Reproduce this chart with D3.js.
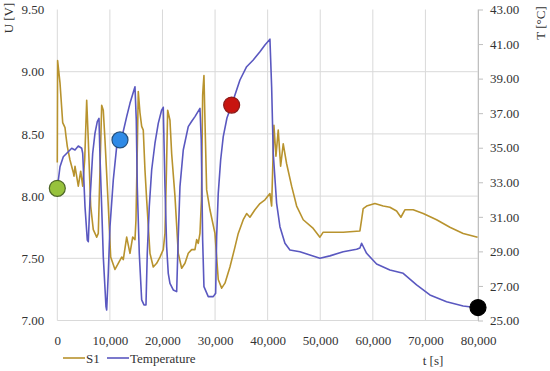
<!DOCTYPE html>
<html>
<head>
<meta charset="utf-8">
<script src="https://cdn.jsdelivr.net/npm/d3@7"></script>
<style>
  body { margin: 0; background: #fff; }
  svg text { font-family: "Liberation Serif", "Times New Roman", serif; fill: #333; }
</style>
</head>
<body>
<div id="chart"></div>
<script>
var svgWidth = 550;
var svgHeight = 371;

// S1 voltage [V] against time [s]
var s1Time = [0, 60, 513, 1027, 1464, 1654, 1901, 2414, 3042, 3175, 3365, 3992, 4448, 4829, 5209, 5589,
  5893, 6349, 6844, 7490, 7794, 8117, 8440, 8745, 9068, 9695, 10151, 10969, 11596, 12243, 12547,
  13193, 13820, 14333, 14771, 14961, 15208, 15398, 15721, 16045, 16349, 16672, 16995, 17622, 18250,
  18896, 19523, 20151, 20474, 20759, 20987, 21424, 21748, 22375, 23002, 23649, 24276, 24903, 25549,
  26177, 26500, 26804, 27127, 27412, 27640, 27754, 27887, 28078, 28401, 29028, 29979, 30606, 31253,
  31880, 32831, 33781, 34409, 35359, 36005, 36633, 37583, 38534, 39484, 40435, 40758, 41195, 41575,
  42013, 42469, 42963, 43610, 44560, 45511, 46766, 48666, 49940, 50567, 51841, 54369, 57544, 57867,
  58169, 58817, 60395, 61973, 63246, 64520, 65337, 66098, 67676, 69577, 72124, 74653, 77181, 79918];
var s1Volt = [8.27, 9.09, 8.91, 8.59, 8.55, 8.48, 8.40, 8.29, 8.19, 8.16, 8.24, 8.08, 8.20, 8.08, 8.29, 8.77,
  8.45, 7.92, 7.73, 7.67, 7.70, 8.21, 8.73, 8.69, 8.45, 7.92, 7.51, 7.41, 7.46, 7.51, 7.49,
  7.67, 7.54, 7.67, 7.65, 7.81, 8.37, 8.84, 8.67, 8.56, 8.53, 8.21, 7.97, 7.54, 7.43,
  7.46, 7.51, 7.57, 7.70, 8.21, 8.69, 8.61, 8.34, 8.00, 7.54, 7.42, 7.46, 7.54, 7.57,
  7.57, 7.65, 7.62, 7.70, 7.97, 8.81, 8.89, 8.97, 8.61, 8.05, 7.89, 7.70, 7.33, 7.26,
  7.30, 7.43, 7.59, 7.70, 7.81, 7.86, 7.83, 7.89, 7.94, 7.97, 8.02, 7.92, 8.57, 8.32,
  8.53, 8.24, 8.42, 8.26, 8.08, 7.92, 7.81, 7.74, 7.67, 7.71, 7.71, 7.71, 7.72, 7.81,
  7.90, 7.92, 7.94, 7.92, 7.91, 7.88, 7.83, 7.89, 7.89, 7.86, 7.81, 7.75, 7.70, 7.67];

// Temperature [°C] against time [s]
var tempTime = [0, 513, 1141, 2091, 2737, 3365, 3992, 4638, 4829, 5266, 5703, 5893, 6216, 6730, 7167,
  7604, 7927, 8117, 8440, 8745, 9258, 9391, 9695, 10018, 10646, 11292, 11919, 12243, 13193, 13820,
  14771, 15018, 15208, 15588, 16045, 16482, 16862, 17109, 17489, 17945, 18573, 19200, 19846, 20151,
  20474, 20797, 21101, 21424, 22052, 22698, 23002, 23325, 23953, 24903, 25500, 26177, 27127, 27374,
  27640, 27887, 28706, 29656, 30112, 30302, 30606, 31063, 31557, 32261, 33153, 33781, 34732, 36005,
  37260, 38534, 39484, 40435, 40758, 41062, 41708, 42336, 43287, 44237, 46138, 48039, 49940, 51841,
  54369, 56917, 57544, 57867, 58817, 60718, 63246, 65775, 68322, 70851, 74025, 77181, 79082, 80000];
var tempVal = [32.65, 33.90, 34.48, 34.77, 34.97, 34.87, 35.10, 34.97, 34.68, 31.59, 29.66, 29.56, 31.98, 34.68, 35.84,
  36.51, 36.70, 34.48, 31.59, 28.69, 25.80, 25.61, 27.73, 30.43, 33.13, 35.06, 35.45, 35.55, 36.80, 37.57,
  38.53, 36.61, 32.75, 28.89, 26.19, 25.90, 25.90, 28.89, 31.59, 33.71, 35.26, 36.41, 37.18, 37.34,
  32.75, 29.27, 27.73, 27.15, 26.77, 26.67, 29.85, 32.75, 34.87, 36.22, 36.50, 36.80, 37.28, 35.45,
  29.66, 26.96, 26.38, 26.38, 26.58, 29.85, 32.36, 34.29, 35.64, 36.72, 37.47, 38.05, 38.92, 39.69,
  40.08, 40.56, 40.95, 41.28, 38.53, 34.68, 31.78, 30.43, 29.47, 29.08, 28.98, 28.79, 28.60, 28.74,
  28.98, 29.12, 29.20, 29.47, 28.89, 28.27, 27.92, 27.73, 27.06, 26.48, 26.09, 25.84, 25.77, 25.75];

// highlighted points on the temperature curve
var markerTime = [0, 11919, 33153, 80000];
var markerTemp = [32.65, 35.45, 37.47, 25.75];
var markerFill = ["#97c23c", "#2f8ae6", "#c8140f", "#000000"];
var markerStroke = ["#4d6626", "#24507e", "#8a1a1a", "#000000"];

var xTicks = [0, 10000, 20000, 30000, 40000, 50000, 60000, 70000, 80000];
var uTicks = [7.0, 7.5, 8.0, 8.5, 9.0, 9.5];
var tTicks = [25, 27, 29, 31, 33, 35, 37, 39, 41, 43];

var s1Color = "#b8932e";
var tempColor = "#5a58c0";
var gridColor = "#d9d9d9";

var plot = { left: 57.3, right: 478, top: 9.5, bottom: 320.5 };

var svg = d3.select("#chart")
  .append("svg")
  .attr("width", svgWidth)
  .attr("height", svgHeight);

var xScale = d3.scaleLinear().domain([0, 80000]).range([plot.left, plot.right]);
var uScale = d3.scaleLinear().domain([7, 9.5]).range([plot.bottom, plot.top]);
var tScale = d3.scaleLinear().domain([25, 43]).range([plot.bottom, plot.top]);

// gridlines
svg.append("g")
  .selectAll("line")
  .data(xTicks)
  .enter()
  .append("line")
  .attr("x1", d => xScale(d))
  .attr("x2", d => xScale(d))
  .attr("y1", plot.top)
  .attr("y2", plot.bottom)
  .attr("stroke", gridColor)
  .attr("stroke-width", 1);

svg.append("g")
  .selectAll("line")
  .data(uTicks.filter(d => d < 9.5))
  .enter()
  .append("line")
  .attr("x1", plot.left)
  .attr("x2", plot.right)
  .attr("y1", d => uScale(d))
  .attr("y2", d => uScale(d))
  .attr("stroke", gridColor)
  .attr("stroke-width", 1);

// axes
var bottomAxis = svg.append("g")
  .attr("transform", `translate(0, ${plot.bottom})`)
  .call(d3.axisBottom(xScale).tickValues(xTicks).tickSize(0).tickPadding(15)
    .tickFormat(d3.format(",")));

var leftAxis = svg.append("g")
  .attr("transform", `translate(${plot.left}, 0)`)
  .call(d3.axisLeft(uScale).tickValues(uTicks).tickSize(0).tickPadding(13)
    .tickFormat(d3.format(".2f")));

var rightAxis = svg.append("g")
  .attr("transform", `translate(${plot.right}, 0)`)
  .call(d3.axisRight(tScale).tickValues(tTicks).tickSize(5).tickSizeOuter(0).tickPadding(7)
    .tickFormat(d3.format(".2f")));

[bottomAxis, leftAxis].forEach(a => a.select(".domain").remove());
rightAxis.select(".domain").attr("stroke", "#bfbfbf");
rightAxis.selectAll(".tick line").attr("stroke", "#bfbfbf");

svg.selectAll(".tick text")
  .attr("font-size", 13)
  .attr("font-family", "Liberation Serif, serif")
  .attr("fill", "#333");

// series lines
var s1Data = s1Time.map((t, i) => ({ t: t, v: s1Volt[i] }));
var tempData = tempTime.map((t, i) => ({ t: t, v: tempVal[i] }));

svg.append("path")
  .datum(s1Data)
  .attr("fill", "none")
  .attr("stroke", s1Color)
  .attr("stroke-width", 1.6)
  .attr("stroke-linejoin", "round")
  .attr("d", d3.line().x(d => xScale(d.t)).y(d => uScale(d.v)));

svg.append("path")
  .datum(tempData)
  .attr("fill", "none")
  .attr("stroke", tempColor)
  .attr("stroke-width", 1.6)
  .attr("stroke-linejoin", "round")
  .attr("d", d3.line().x(d => xScale(d.t)).y(d => tScale(d.v)));

// markers
svg.append("g")
  .selectAll("circle")
  .data(markerTime)
  .enter()
  .append("circle")
  .attr("cx", d => xScale(d))
  .attr("cy", (d, i) => tScale(markerTemp[i]))
  .attr("r", 8)
  .attr("fill", (d, i) => markerFill[i])
  .attr("stroke", (d, i) => markerStroke[i])
  .attr("stroke-width", 1.2);

// axis titles
svg.append("text")
  .attr("transform", "translate(13, 18) rotate(-90)")
  .attr("text-anchor", "middle")
  .attr("font-size", 13)
  .text("U [V]");

svg.append("text")
  .attr("transform", "translate(545, 23) rotate(-90)")
  .attr("text-anchor", "middle")
  .attr("font-size", 13)
  .text("T [°C]");

svg.append("text")
  .attr("x", 433)
  .attr("y", 365)
  .attr("text-anchor", "middle")
  .attr("font-size", 13)
  .text("t [s]");

// legend
var legendItems = [
  { name: "S1", color: s1Color, x: 63 },
  { name: "Temperature", color: tempColor, x: 107 }
];
var legend = svg.append("g").attr("transform", "translate(0, 358)");
legend.selectAll("line")
  .data(legendItems)
  .enter()
  .append("line")
  .attr("x1", d => d.x)
  .attr("x2", d => d.x + 22)
  .attr("y1", 0)
  .attr("y2", 0)
  .attr("stroke", d => d.color)
  .attr("stroke-width", 1.6);
legend.selectAll("text")
  .data(legendItems)
  .enter()
  .append("text")
  .attr("x", d => d.x + 23)
  .attr("y", 4.5)
  .attr("font-size", 13)
  .text(d => d.name);
</script>
</body>
</html>
